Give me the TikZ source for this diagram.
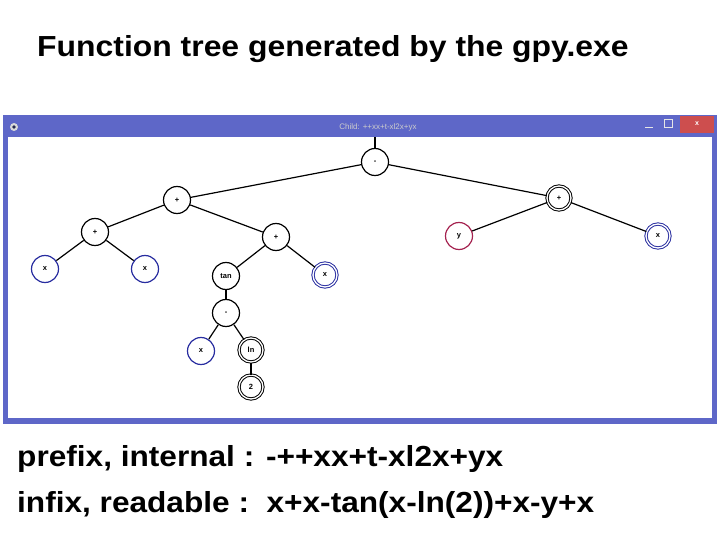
\documentclass[tikz,border=0pt]{standalone}
\usepackage{fontspec}
\setmainfont{Liberation Sans}
\definecolor{winblue}{RGB}{94,103,200}
\definecolor{closered}{RGB}{205,78,78}
\definecolor{nblue}{RGB}{40,45,160}
\definecolor{nred}{RGB}{165,35,80}
\tikzset{
  tn/.style={circle, draw=black, fill=white, line width=1.2pt, minimum size=27pt, inner sep=0pt, font=\fontsize{7.5}{8}\selectfont\bfseries},
  tnd/.style={tn, line width=1pt, double=white, double distance=1.3pt, minimum size=24pt},
  bl/.style={draw=nblue},
  rd/.style={draw=nred},
  edge/.style={line width=1.2pt, black},
  bigtxt/.style={anchor=base west, inner sep=0pt, font=\fontsize{29}{32}\selectfont\bfseries}
}
\begin{document}
\begin{tikzpicture}[x=1pt,y=-1pt]
\useasboundingbox (0,0) rectangle (720,540);
% title
\node[bigtxt] (title) at (37,57) {\scalebox{1.10}[1]{Function tree generated by the gpy.exe}};
% window
\fill[winblue] (3,115) rectangle (717,424);
\fill[white] (8,137) rectangle (712,418);
\fill[closered] (680,116) rectangle (714,133);
\node[font=\fontsize{7}{8}\selectfont\bfseries, text=white] (closex) at (697,124) {x};
\draw[white!90!black, line width=1pt] (664,120) rectangle (672,128);
\draw[white!90!black, line width=1pt] (645,128) -- (653,128);
\fill[white!85!black] (14,127) circle (4pt);
\fill[winblue!40!black] (14,127) circle (1.8pt);
\node[font=\fontsize{8}{9}\selectfont, text=white!80!black] (wtitle) at (378,127) {Child: ++xx+t-xl2x+yx};
% nodes
\node[tn] (root) at (375,162) {-};
\node[tn] (p1) at (177,200) {+};
\node[tn] (p2) at (95,232) {+};
\node[tn,bl] (x1) at (45,269) {x};
\node[tn,bl] (x2) at (145,269) {x};
\node[tn] (p3) at (276,237) {+};
\node[tn] (tan) at (226,276) {tan};
\node[tnd,bl] (x3) at (325,275) {x};
\node[tn] (m2) at (226,313) {-};
\node[tn,bl] (x4) at (201,351) {x};
\node[tnd] (ln) at (251,350) {ln};
\node[tnd] (two) at (251,387) {2};
\node[tnd] (p4) at (559,198) {+};
\node[tn,rd] (y) at (459,236) {y};
\node[tnd,bl] (x5) at (658,236) {x};
\coordinate (top) at (375,137);
% edges
\draw[edge] (top) -- (root);
\draw[edge] (root) -- (p1);
\draw[edge] (root) -- (p4);
\draw[edge] (p1) -- (p2);
\draw[edge] (p1) -- (p3);
\draw[edge] (p2) -- (x1);
\draw[edge] (p2) -- (x2);
\draw[edge] (p3) -- (tan);
\draw[edge] (p3) -- (x3);
\draw[edge] (tan) -- (m2);
\draw[edge] (m2) -- (x4);
\draw[edge] (m2) -- (ln);
\draw[edge] (ln) -- (two);
\draw[edge] (p4) -- (y);
\draw[edge] (p4) -- (x5);
% bottom text
\node[bigtxt] (pre) at (17,466) {\scalebox{1.09}[1]{prefix, internal : -++xx+t-xl2x+yx}};
\node[bigtxt] (inf) at (17,512) {\scalebox{1.09}[1]{infix, readable :\ \ x+x-tan(x-ln(2))+x-y+x}};
\end{tikzpicture}
\end{document}
